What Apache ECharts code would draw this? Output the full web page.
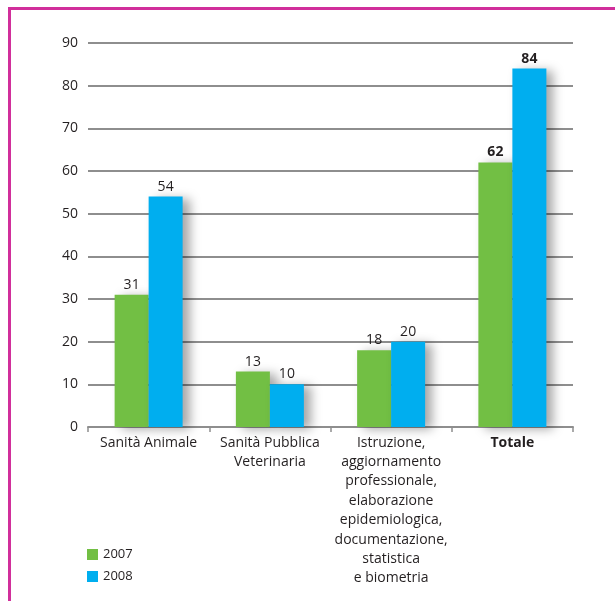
<!DOCTYPE html>
<html>
<head>
<meta charset="utf-8">
<script src="https://cdn.jsdelivr.net/npm/echarts@6/dist/echarts.min.js"></script>
<style>
  html, body { margin: 0; padding: 0; background: #fff; }
  #frame {
    position: absolute; left: 8px; top: 7px; width: 607px; height: 594px;
    border-left: 3px solid #d12f9b; border-top: 3px solid #d12f9b;
    box-sizing: border-box;
  }
  #chart { position: absolute; left: 0; top: 0; width: 615px; height: 601px; }
</style>
</head>
<body>
<div id="frame"></div>
<div id="chart"></div>
<script>
// Categories and yearly values
const categories = [
  'Sanità Animale',
  'Sanità Pubblica\nVeterinaria',
  'Istruzione,\naggiornamento\nprofessionale,\nelaborazione\nepidemiologica,\ndocumentazione,\nstatistica\ne biometria',
  'Totale'
];
const values2007 = [31, 13, 18, 62];
const values2008 = [54, 10, 20, 84];
const seriesNames = ['2007', '2008'];
const yTicks = { min: 0, max: 90, interval: 10 };

const FONT = '"Open Sans", "Noto Sans", sans-serif';
const TEXT = '#231f20';

function labelFor(idx) {
  // The total column carries bold value labels
  return {
    show: true,
    position: 'top',
    distance: 3,
    fontFamily: FONT,
    fontSize: 14,
    color: TEXT,
    fontWeight: idx === 3 ? 'bold' : 'normal'
  };
}

function makeData(values) {
  return values.map((v, i) => ({ value: v, label: labelFor(i) }));
}

const barShadow = {
  shadowColor: 'rgba(0,0,0,0.35)',
  shadowBlur: 10,
  shadowOffsetX: 7,
  shadowOffsetY: 2
};

const chart = echarts.init(document.getElementById('chart'), null, { renderer: 'canvas' });
chart.setOption({
  animation: false,
  grid: { left: 88, right: 42, top: 43, bottom: 174, containLabel: false },
  legend: {
    orient: 'vertical',
    left: 82,
    top: 543,
    icon: 'rect',
    itemWidth: 11,
    itemHeight: 11,
    itemGap: 9,
    textStyle: { fontFamily: FONT, fontSize: 13, color: TEXT },
    itemStyle: { shadowBlur: 0, shadowOffsetX: 0, shadowOffsetY: 0 },
    data: seriesNames
  },
  xAxis: {
    type: 'category',
    data: categories,
    axisLine: { show: true, lineStyle: { color: '#8e8e8e', width: 2 } },
    axisTick: { show: true, length: 5, lineStyle: { color: '#8e8e8e', width: 1.5 } },
    axisLabel: {
      interval: 0,
      margin: 6,
      fontFamily: FONT,
      fontSize: 14,
      lineHeight: 19.4,
      color: TEXT,
      formatter: v => v === 'Totale' ? '{b|' + v + '}' : v,
      rich: { b: { fontWeight: 'bold', fontFamily: FONT, fontSize: 14, color: TEXT } }
    }
  },
  yAxis: {
    type: 'value',
    min: yTicks.min,
    max: yTicks.max,
    interval: yTicks.interval,
    axisLine: { show: false },
    axisTick: { show: false },
    axisLabel: { margin: 10, fontFamily: FONT, fontSize: 14, color: TEXT },
    splitLine: { lineStyle: { color: '#8e8e8e', width: 2 } }
  },
  series: [
    {
      name: seriesNames[0],
      type: 'bar',
      data: makeData(values2007),
      barWidth: 34,
      barGap: '0%',
      itemStyle: Object.assign({ color: '#72bf44' }, barShadow)
    },
    {
      name: seriesNames[1],
      type: 'bar',
      data: makeData(values2008),
      barWidth: 34,
      barGap: '0%',
      itemStyle: Object.assign({ color: '#00aeef' }, barShadow)
    }
  ]
});
</script>
</body>
</html>
